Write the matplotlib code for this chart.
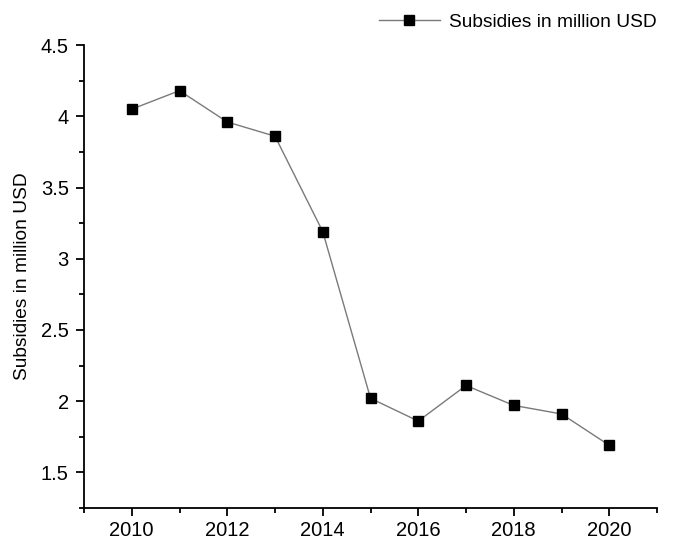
import matplotlib
matplotlib.use("Agg")
import matplotlib.pyplot as plt
from matplotlib.ticker import MultipleLocator

plt.rcParams['font.family'] = ['Liberation Sans', 'DejaVu Sans']

years = [2010, 2011, 2012, 2013, 2014, 2015, 2016, 2017, 2018, 2019, 2020]
subsidies = [4.05, 4.18, 3.96, 3.86, 3.19, 2.02, 1.86, 2.11, 1.97, 1.91, 1.69]
series_label = "Subsidies in million USD"
y_label = "Subsidies in million USD"

fig = plt.figure(figsize=(6.73, 5.43), dpi=100)
ax = fig.add_axes([0.1248, 0.0645, 0.8515, 0.8525])

ax.plot(years, subsidies, color='#7a7a7a', linewidth=1.0,
        marker='s', markersize=7, markerfacecolor='black',
        markeredgecolor='black', label=series_label)

ax.set_xlim(2009, 2021)
ax.set_ylim(1.25, 4.5)
ax.xaxis.set_major_locator(MultipleLocator(2))
ax.xaxis.set_minor_locator(MultipleLocator(1))
ax.yaxis.set_major_locator(MultipleLocator(0.5))
ax.yaxis.set_minor_locator(MultipleLocator(0.25))
ax.yaxis.set_major_formatter(plt.FuncFormatter(lambda v, p: f"{v:g}"))

for s in ['top', 'right']:
    ax.spines[s].set_visible(False)
for s in ['left', 'bottom']:
    ax.spines[s].set_linewidth(1.3)

ax.tick_params(which='major', direction='out', length=6, width=1.3, labelsize=14.5)
ax.tick_params(which='minor', direction='out', length=3.5, width=1.3)
ax.tick_params(axis='y', pad=5)
ax.set_ylabel(y_label, fontsize=13.8, labelpad=7)

fig.legend(loc='upper right', bbox_to_anchor=(1.002, 1.007), frameon=False,
           fontsize=13.8, handlelength=3.2, handletextpad=0.5)

fig.savefig('out.png', dpi=100)
